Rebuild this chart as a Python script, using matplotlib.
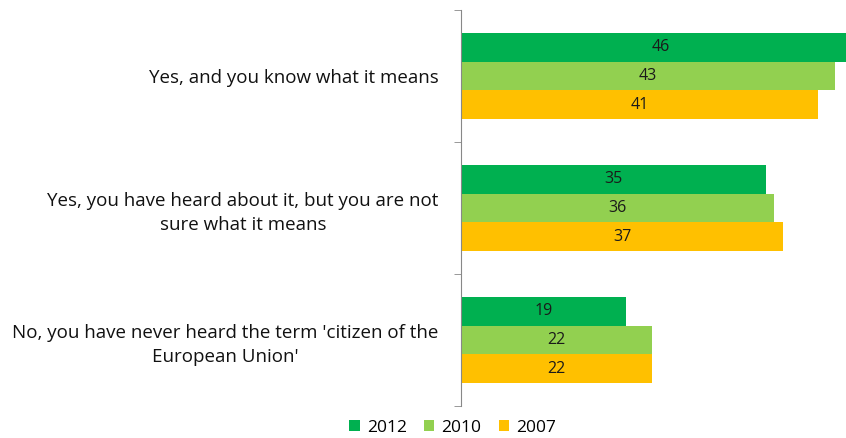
import matplotlib.pyplot as plt
import numpy as np

categories = ["Yes, and you know what it means",
              "Yes, you have heard about it, but you are not\nsure what it means",
              "No, you have never heard the term 'citizen of the\nEuropean Union'"]
years = ["2012", "2010", "2007"]
v2012 = [46, 35, 19]
v2010 = [43, 36, 22]
v2007 = [41, 37, 22]
colors = ["#00B050", "#92D050", "#FFC000"]

plt.rcParams['font.family'] = ['Open Sans', 'DejaVu Sans']

fig = plt.figure(figsize=(8.46, 4.38), dpi=100)
ax = fig.add_axes([0.545, 0.073, 0.455, 0.904])

y = np.arange(len(categories))
h = 0.218
for i, (vals, lab) in enumerate(zip([v2012, v2010, v2007], years)):
  pos = y - h + i * h
  ax.barh(pos, vals, height=h, color=colors[i], label=lab)
  for p, v in zip(pos, vals):
    ax.text(v / 2, p, str(v), ha='center', va='center', fontsize=11.5, color='#1a1a1a')

ax.set_xlim(0, 44.25)
ax.set_ylim(2.5, -0.5)
ax.set_yticks(y)
ax.set_yticklabels(categories, fontsize=13.5, multialignment='center', color='#111111')
for lbl in ax.get_yticklabels():
  lbl.set_linespacing(1.4)
ax.set_yticks([-0.5, 0.5, 1.5, 2.5], minor=True)
ax.tick_params(axis='y', which='major', length=0, pad=16)
ax.tick_params(axis='y', which='minor', length=5, color='#888888')
ax.set_xticks([])
for s in ['top', 'right', 'bottom']:
  ax.spines[s].set_visible(False)
ax.spines['left'].set_color('#888888')

fig.legend(loc='lower center', bbox_to_anchor=(0.535, -0.03), ncol=3, frameon=False,
           fontsize=12.5, handlelength=0.6, handleheight=0.6, handletextpad=0.4, columnspacing=1.0)

fig.savefig("out.png", dpi=100)
